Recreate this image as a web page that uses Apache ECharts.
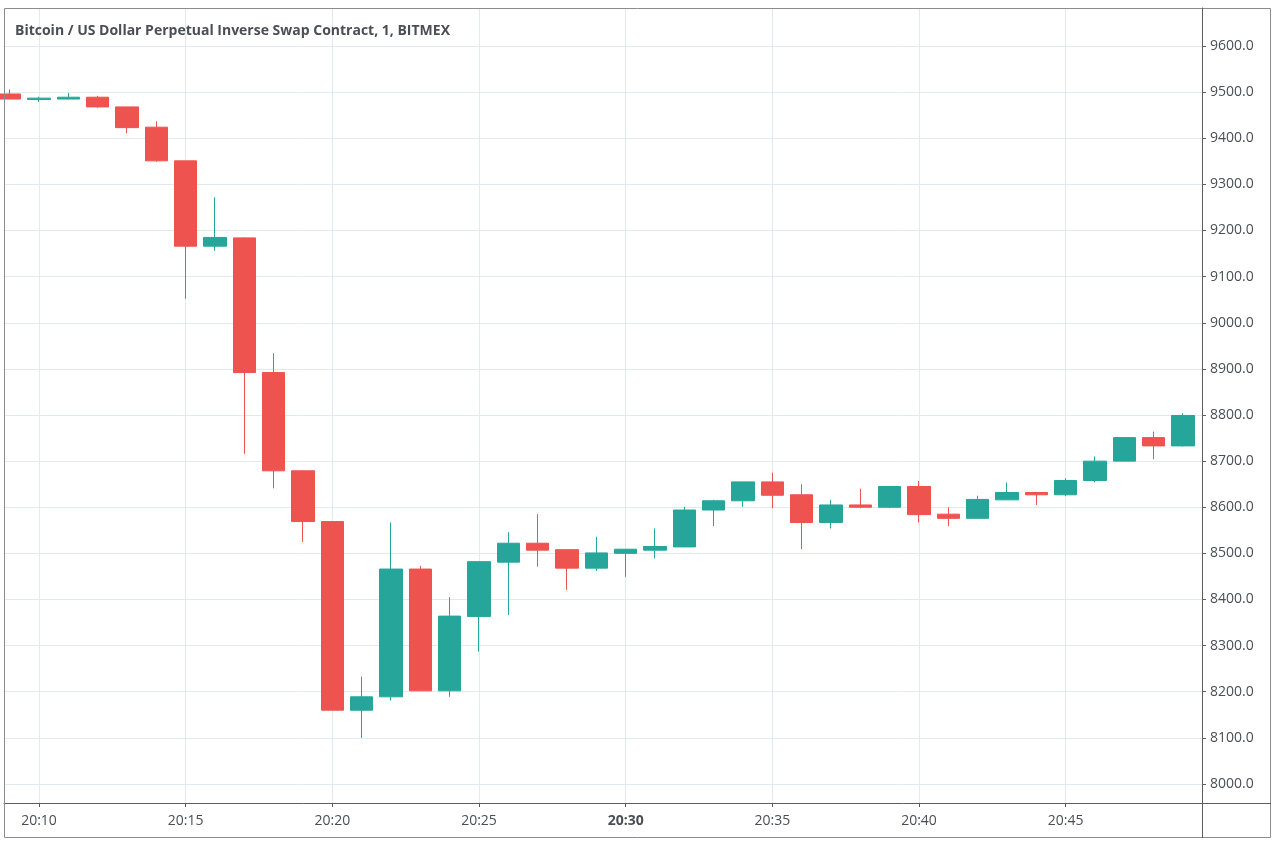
<!DOCTYPE html>
<html>
<head>
<meta charset="utf-8">
<script src="https://cdn.jsdelivr.net/npm/echarts@6/dist/echarts.min.js"></script>
<style>
  html, body { margin: 0; padding: 0; background: #ffffff; }
  #kline { width: 1275px; height: 844px; }
</style>
</head>
<body>
<div id="kline"></div>
<script>
  // one-minute candles, 20:09 .. 20:49
  let times  = ['20:09','20:10','20:11','20:12','20:13','20:14','20:15','20:16','20:17','20:18',
                '20:19','20:20','20:21','20:22','20:23','20:24','20:25','20:26','20:27','20:28',
                '20:29','20:30','20:31','20:32','20:33','20:34','20:35','20:36','20:37','20:38',
                '20:39','20:40','20:41','20:42','20:43','20:44','20:45','20:46','20:47','20:48','20:49']
  let opens  = [9496,9484,9485,9489,9468,9424,9351,9166,9184,8892,
                8679,8569,8160,8189,8466,8202,8363,8481,8522,8508,
                8468,8500,8507,8514,8594,8614,8655,8627,8567,8605,
                8600,8645,8585,8576,8616,8632,8627,8658,8700,8751,8733]
  let closes = [9485,9487,9489,9468,9423,9351,9166,9185,8892,8679,
                8569,8160,8189,8466,8202,8364,8482,8522,8507,8468,
                8501,8509,8515,8594,8614,8655,8626,8567,8605,8600,
                8645,8584,8576,8617,8632,8627,8658,8700,8751,8733,8799]
  let lows   = [9485,9479,9485,9466,9411,9349,9052,9156,8716,8641,
                8525,8159,8100,8181,8202,8189,8287,8366,8471,8421,
                8462,8449,8489,8514,8559,8601,8598,8509,8554,8598,
                8598,8567,8559,8576,8616,8605,8624,8654,8700,8704,8732]
  let highs  = [9506,9490,9498,9492,9468,9437,9351,9272,9185,8934,
                8680,8570,8233,8567,8473,8405,8482,8546,8585,8508,
                8536,8509,8554,8601,8616,8655,8675,8650,8616,8640,
                8645,8657,8600,8625,8654,8632,8663,8710,8751,8764,8804]
  let timeTicks  = [10,15,20,25,30,35,40,45]
  let priceTicks = [8000,8100,8200,8300,8400,8500,8600,8700,8800,8900,9000,9100,9200,9300,9400,9500,9600]

  let minuteOf = function (t) { return Number(t.split(':')[1]) }
  let candles = times.map(function (t, i) {
    return [minuteOf(t), opens[i], closes[i], lows[i], highs[i]]
  })

  let textColor = '#4c4e56'
  let gridColor = '#e1eaf1'
  let axisColor = '#5d5d5d'
  let fontFamily = '"Open Sans", "Noto Sans", sans-serif'

  let myChart = echarts.init(document.getElementById('kline'))
  myChart.setOption({
    animation: false,
    textStyle: { fontFamily: fontFamily },
    title: {
      text: 'Bitcoin / US Dollar Perpetual Inverse Swap Contract, 1, BITMEX',
      left: 10,
      top: 19,
      textStyle: { fontSize: 14, fontWeight: 'bold', color: textColor, fontFamily: fontFamily }
    },
    grid: { left: 4, right: 73, top: 8, bottom: 41, containLabel: false },
    xAxis: {
      type: 'value',
      min: 8.807,
      max: 49.648,
      axisLine: { show: true, onZero: false, lineStyle: { color: axisColor, width: 1 } },
      axisTick: { show: true, length: 4, lineStyle: { color: axisColor }, customValues: timeTicks },
      axisLabel: {
        customValues: timeTicks,
        margin: 11,
        fontSize: 14,
        color: textColor,
        formatter: function (v) {
          let s = '20:' + (v < 10 ? '0' + v : v)
          return v === 30 ? '{b|' + s + '}' : s
        },
        rich: { b: { fontWeight: 'bold', fontSize: 14, color: textColor, fontFamily: fontFamily } }
      },
      splitLine: { show: true, lineStyle: { color: gridColor, width: 1 } }
    },
    yAxis: {
      type: 'value',
      position: 'right',
      min: 7958.8,
      max: 9682.4,
      scale: true,
      axisLine: { show: true, lineStyle: { color: axisColor, width: 1 } },
      axisTick: { show: true, inside: false, length: 4, lineStyle: { color: axisColor }, customValues: priceTicks },
      axisLabel: {
        customValues: priceTicks,
        margin: 8,
        fontSize: 14,
        color: textColor,
        formatter: function (v) { return v.toFixed(1) }
      },
      splitLine: { show: true, lineStyle: { color: gridColor, width: 1 } }
    },
    graphic: [
      { type: 'rect', silent: true, z: 100,
        shape: { x: 4.5, y: 8.5, width: 1266, height: 829 },
        style: { fill: null, stroke: '#8c8c8c', lineWidth: 1 } },
      { type: 'line', silent: true, z: 100,
        shape: { x1: 1202.5, y1: 8, x2: 1202.5, y2: 838 },
        style: { stroke: axisColor, lineWidth: 1 } },
      { type: 'line', silent: true, z: 100,
        shape: { x1: 1202, y1: 803.5, x2: 1271, y2: 803.5 },
        style: { stroke: axisColor, lineWidth: 1 } }
    ],
    series: [{
      name: 'XBTUSD',
      type: 'candlestick',
      barWidth: 23,
      data: candles,
      itemStyle: {
        color: '#26a69a',
        color0: '#ef5350',
        borderColor: '#26a69a',
        borderColor0: '#ef5350',
        borderWidth: 1
      }
    }]
  })
</script>
</body>
</html>
